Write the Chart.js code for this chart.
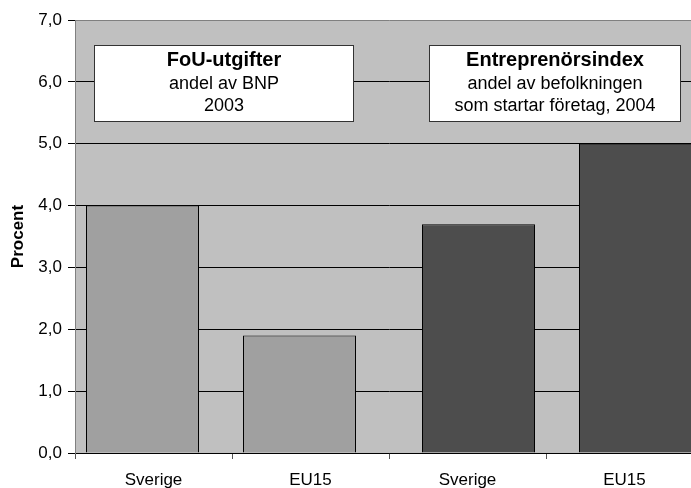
<!DOCTYPE html>
<html>
<head>
<meta charset="utf-8">
<script src="https://cdn.jsdelivr.net/npm/chart.js@4/dist/chart.umd.min.js"></script>
<style>
  html, body { margin: 0; padding: 0; background: #ffffff; overflow: hidden; }
  #wrap { width: 691px; height: 488px; overflow: hidden; }
</style>
</head>
<body>
<div id="wrap"><canvas id="stapelDiagram" width="703" height="488"></canvas></div>
<script>
// Kategorier och värden
var kategorier = ['Sverige', 'EU15', 'Sverige', 'EU15'];
var fouUtgifter = [4.0, 1.9, null, null];
var entreprenorsindex = [null, null, 3.7, 5.0];
var yMin = 0;
var yMax = 7;
var yStep = 1;

// Textrutor: rubrik + rader
var rutaFoU = ['FoU-utgifter', 'andel av BNP', '2003'];
var rutaEntre = ['Entreprenörsindex', 'andel av befolkningen', 'som startar företag, 2004'];

var fontFamily = '"Liberation Sans", Arial, sans-serif';

document.addEventListener('DOMContentLoaded', function () {
    var ctx = document.getElementById('stapelDiagram').getContext('2d');

    // grå bakgrund i diagramytan
    var bakgrund = {
        id: 'bakgrund',
        beforeDraw: function (chart) {
            var a = chart.chartArea;
            var c = chart.ctx;
            c.save();
            c.fillStyle = '#c0c0c0';
            c.fillRect(a.left, a.top, a.right - a.left, a.bottom - a.top);
            c.restore();
        }
    };

    // textrutorna ritas ovanpå staplarna
    // x anges som kategoriindex + andel av kategoribredd, y i procent
    var rutor = [
        { rader: rutaFoU, x1: [0, -0.379], x2: [1, 0.268], yTop: 6.6, yBot: 5.37 },
        { rader: rutaEntre, x1: [2, -0.247], x2: [3, 0.355], yTop: 6.6, yBot: 5.37 }
    ];
    var textrutor = {
        id: 'textrutor',
        afterDatasetsDraw: function (chart) {
            var c = chart.ctx;
            var xs = chart.scales.x;
            var ys = chart.scales.y;
            var bredd = xs.getPixelForValue(1) - xs.getPixelForValue(0);
            rutor.forEach(function (r) {
                var l = Math.round(xs.getPixelForValue(r.x1[0]) + r.x1[1] * bredd) + 0.5;
                var h = Math.round(xs.getPixelForValue(r.x2[0]) + r.x2[1] * bredd) + 0.5;
                var t = Math.round(ys.getPixelForValue(r.yTop)) + 0.5;
                var b = Math.round(ys.getPixelForValue(r.yBot)) + 0.5;
                c.save();
                c.fillStyle = '#ffffff';
                c.fillRect(l, t, h - l, b - t);
                c.strokeStyle = '#333333';
                c.lineWidth = 1;
                c.strokeRect(l, t, h - l, b - t);
                c.fillStyle = '#000000';
                c.textAlign = 'center';
                c.textBaseline = 'alphabetic';
                var mitt = (l + h) / 2;
                c.font = 'bold 20px ' + fontFamily;
                c.fillText(r.rader[0], mitt, t + 20);
                c.font = '18px ' + fontFamily;
                c.fillText(r.rader[1], mitt, t + 43);
                c.fillText(r.rader[2], mitt, t + 65);
                c.restore();
            });
        }
    };

    var stapelDiagram = new Chart(ctx, {
        type: 'bar',
        data: {
            labels: kategorier,
            datasets: [{
                label: 'FoU-utgifter',
                data: fouUtgifter,
                backgroundColor: '#a0a0a0',
                borderColor: '#000000',
                borderWidth: 1,
                categoryPercentage: 0.28025,
                barPercentage: 5.13636
            }, {
                label: 'Entreprenörsindex',
                data: entreprenorsindex,
                backgroundColor: '#4d4d4d',
                borderColor: '#000000',
                borderWidth: 1,
                categoryPercentage: 0.28025,
                barPercentage: 5.13636
            }]
        },
        options: {
            responsive: false,
            animation: false,
            devicePixelRatio: 1,
            layout: { padding: { top: 20, right: 0, bottom: 0, left: 0 } },
            plugins: {
                legend: { display: false },
                tooltip: { enabled: false }
            },
            scales: {
                x: {
                    offset: true,
                    afterFit: function (scale) { scale.height = 35; },
                    grid: {
                        offset: true,
                        drawOnChartArea: false,
                        drawTicks: true,
                        tickLength: 6,
                        color: '#555555'
                    },
                    border: { display: true, color: '#000000', width: 1 },
                    ticks: {
                        color: '#000000',
                        padding: 11,
                        maxRotation: 0,
                        font: { family: fontFamily, size: 17 }
                    }
                },
                y: {
                    min: yMin,
                    max: yMax,
                    afterFit: function (scale) { scale.width = 75; },
                    grid: {
                        color: function (c) { return c.tick && c.tick.value === yMax ? '#808080' : '#000000'; },
                        tickColor: '#000000',
                        tickLength: 7,
                        lineWidth: 1
                    },
                    border: { display: true, color: '#808080', width: 1 },
                    ticks: {
                        stepSize: yStep,
                        color: '#000000',
                        padding: 6,
                        font: { family: fontFamily, size: 17 },
                        callback: function (v) { return v.toFixed(1).replace('.', ','); }
                    },
                    title: {
                        display: true,
                        text: 'Procent',
                        color: '#000000',
                        padding: { top: 8, bottom: 0 },
                        font: { family: fontFamily, size: 17, weight: 'bold' }
                    }
                }
            }
        },
        plugins: [bakgrund, textrutor]
    });
});
</script>
</body>
</html>
